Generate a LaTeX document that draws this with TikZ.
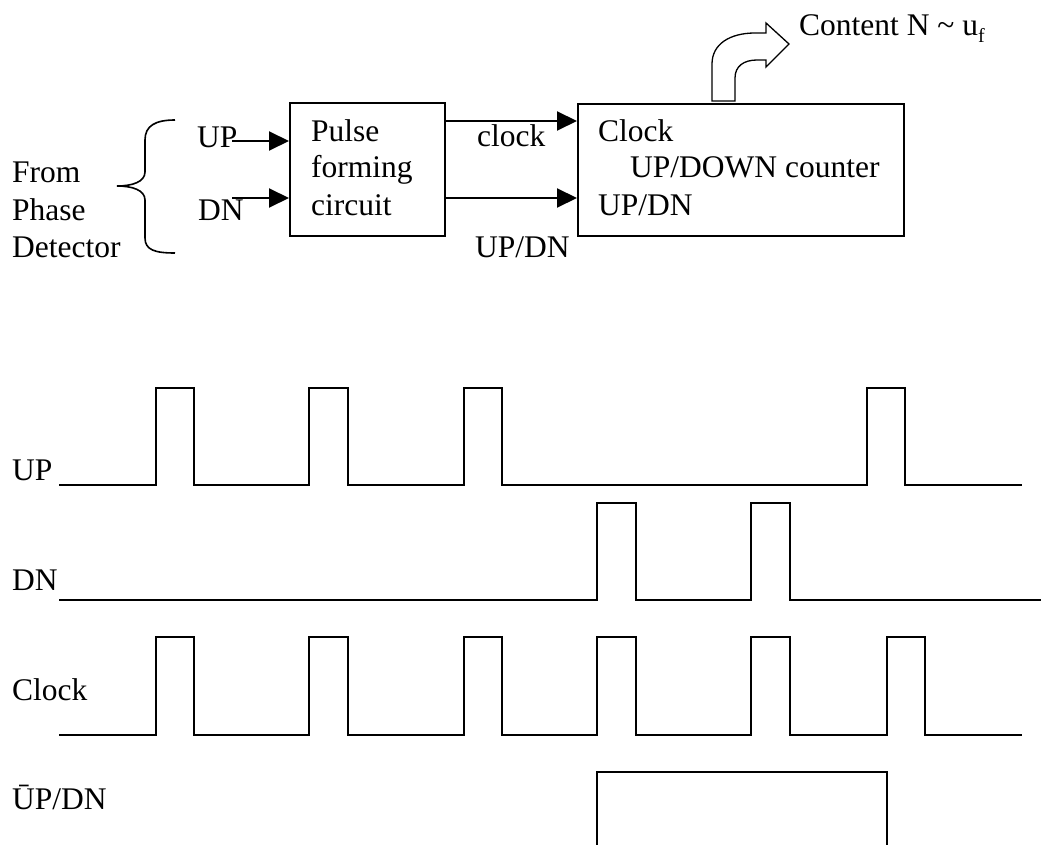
\documentclass[tikz,border=0pt]{standalone}
\usepackage{fontspec}
\setmainfont{Liberation Serif}
\usetikzlibrary{arrows.meta}
\begin{document}
\begin{tikzpicture}[x=1pt,y=-1pt,
  txt/.style={anchor=base west,inner sep=0pt,font=\fontsize{31.5}{37}\selectfont},
  blockbox/.style={draw,line width=2pt,anchor=north west,inner sep=0pt},
  arr/.style={line width=2pt,-{Triangle[length=20pt,width=19pt]}},
  wave/.style={line width=2pt,line join=miter}]
\useasboundingbox (0,0) rectangle (1049,845);

% ---------- block diagram ----------
\node[txt] (from) at (12,183) {From};
\node[txt] (phase) at (12,220) {Phase};
\node[txt] (det) at (12,257) {Detector};
\draw[line width=1.6pt] (175,120) .. controls (155,120) and (145,126) .. (145,140)
  -- (145,172) .. controls (145,182) and (132,186) .. (117,186)
  .. controls (132,186) and (145,190) .. (145,200)
  -- (145,238) .. controls (145,250) and (155,253) .. (175,253);

\node[txt] (uptxt) at (197,148) {UP};
\node[txt] (dntxt) at (198,220) {DN};

\node[blockbox,minimum width=155pt,minimum height=133pt] (pf) at (289,102) {};
\node[txt] (p1) at (311,142) {Pulse};
\node[txt] (p2) at (311,178) {forming};
\node[txt] (p3) at (311,215) {circuit};

\node[blockbox,minimum width=326pt,minimum height=132pt] (cnt) at (577,103) {};
\node[txt] (c1) at (598,142) {Clock};
\node[txt] (c2) at (630,178) {UP/DOWN counter};
\node[txt] (c3) at (598,215) {UP/DN};

\coordinate (upstart) at (232,141);
\coordinate (dnstart) at (232,198);
\draw[arr] (upstart) -- (upstart -| pf.west);
\draw[arr] (dnstart) -- (dnstart -| pf.west);

\coordinate (clkA) at (444,121);
\coordinate (udA) at (444,198);
\draw[arr] (clkA) -- (clkA -| cnt.west);
\draw[arr] (udA) -- (udA -| cnt.west);

\node[txt] (clklbl) at (477,147) {clock};
\node[txt] (udlbl) at (475,257) {UP/DN};

% curved block arrow
\draw[line width=1.3pt,fill=white,line join=miter] (712,101) -- (712,64)
  .. controls (712,44) and (730,33) .. (755,33) -- (766,33) -- (766,23)
  -- (789,44) -- (766,67) -- (766,60) -- (757,60)
  .. controls (744,60) and (735,66) .. (735,78) -- (735,101) -- cycle;
\node[txt] (content) at (799,36) {Content N \textasciitilde\ u\raisebox{-0.22em}{\fontsize{20}{20}\selectfont f}};

% ---------- timing diagram ----------
\node[txt] (wup) at (12,480) {UP};
\node[txt] (wdn) at (12,590) {DN};
\node[txt] (wclk) at (12,700) {Clock};
\node[txt] (wud) at (12,809) {ŪP/DN};

\draw[wave] (59,485) -- (156,485) -- (156,388) -- (194,388) -- (194,485)
  -- (309,485) -- (309,388) -- (348,388) -- (348,485)
  -- (464,485) -- (464,388) -- (502,388) -- (502,485)
  -- (867,485) -- (867,388) -- (905,388) -- (905,485) -- (1022,485);

\draw[wave] (59,600) -- (597,600) -- (597,503) -- (636,503) -- (636,600)
  -- (751,600) -- (751,503) -- (790,503) -- (790,600) -- (1041,600);

\draw[wave] (59,735) -- (156,735) -- (156,637) -- (194,637) -- (194,735)
  -- (309,735) -- (309,637) -- (348,637) -- (348,735)
  -- (464,735) -- (464,637) -- (502,637) -- (502,735)
  -- (597,735) -- (597,637) -- (636,637) -- (636,735)
  -- (751,735) -- (751,637) -- (790,637) -- (790,735)
  -- (887,735) -- (887,637) -- (925,637) -- (925,735) -- (1022,735);

\draw[wave] (597,846) -- (597,772) -- (887,772) -- (887,846);
\end{tikzpicture}
\end{document}
